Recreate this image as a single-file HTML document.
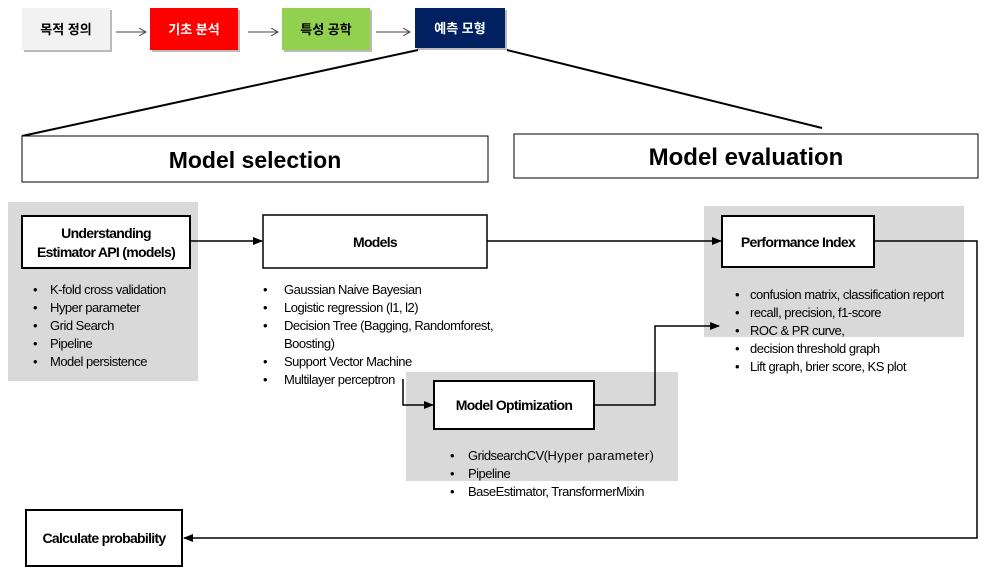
<!DOCTYPE html>
<html><head><meta charset="utf-8"><style>
body{margin:0;background:#fff;}
svg text{font-family:"Liberation Sans","Noto Sans CJK KR",sans-serif;}
.b{font-size:13px;letter-spacing:-0.5px;fill:#000;}
.h{font-size:14px;font-weight:bold;letter-spacing:-0.7px;}
</style></head><body>
<svg width="992" height="574" xmlns="http://www.w3.org/2000/svg">
<defs><marker id="a" markerWidth="10" markerHeight="8" refX="9" refY="4" orient="auto" markerUnits="userSpaceOnUse"><path d="M0,0 L10,4 L0,8z" fill="#000"/></marker>
<marker id="t" markerWidth="8" markerHeight="8" refX="7" refY="4" orient="auto" markerUnits="userSpaceOnUse"><path d="M0,0 L7,4 L0,8" fill="none" stroke="#444"/></marker></defs>
<rect x="24" y="10" width="88" height="42" fill="#bbb"/>
<rect x="22" y="8" width="88" height="42" fill="#f2f2f2"/>
<text x="66" y="34" text-anchor="middle" font-size="13" font-weight="bold">목적 정의</text>
<rect x="152" y="10" width="88" height="42" fill="#bbb"/>
<rect x="150" y="8" width="88" height="42" fill="#ff0000"/>
<text x="194" y="34" text-anchor="middle" font-size="13" font-weight="bold" fill="#fff">기초 분석</text>
<rect x="284" y="10" width="88" height="42" fill="#bbb"/>
<rect x="282" y="8" width="88" height="42" fill="#92d050"/>
<text x="326" y="34" text-anchor="middle" font-size="13" font-weight="bold">특성 공학</text>
<rect x="417" y="10" width="90" height="40" fill="#bbb"/>
<rect x="415" y="8" width="90" height="40" fill="#002060"/>
<text x="460" y="33" text-anchor="middle" font-size="13" font-weight="bold" fill="#fff">예측 모형</text>
<line x1="116" y1="32" x2="146" y2="32" stroke="#444" marker-end="url(#t)"/>
<line x1="248" y1="32" x2="278" y2="32" stroke="#444" marker-end="url(#t)"/>
<line x1="376" y1="32" x2="410" y2="32" stroke="#444" marker-end="url(#t)"/>
<line x1="418" y1="50" x2="22" y2="136" stroke="#000" stroke-width="2"/>
<line x1="507" y1="50" x2="822" y2="128" stroke="#000" stroke-width="2"/>
<rect x="22" y="136" width="466" height="46" fill="#fff" stroke="#000"/>
<text x="255" y="168" text-anchor="middle" font-size="23" font-weight="bold">Model selection</text>
<rect x="514" y="134" width="464" height="44" fill="#fff" stroke="#000"/>
<text x="746" y="165" text-anchor="middle" font-size="24" font-weight="bold">Model evaluation</text>
<rect x="8" y="202" width="190" height="179" fill="#d9d9d9"/>
<rect x="704" y="206" width="260" height="131" fill="#d9d9d9"/>
<rect x="406" y="372" width="272" height="109" fill="#d9d9d9"/>
<rect x="22" y="216" width="168" height="52" fill="#fff" stroke="#000" stroke-width="2"/>
<text x="106" y="238" text-anchor="middle" class="h">Understanding</text>
<text x="106" y="257" text-anchor="middle" class="h">Estimator API (models)</text>
<rect x="263" y="215" width="224" height="53" fill="#fff" stroke="#000" stroke-width="1.5"/>
<text x="375" y="247" text-anchor="middle" class="h">Models</text>
<rect x="722" y="216" width="152" height="51" fill="#fff" stroke="#000" stroke-width="2"/>
<text x="798" y="247" text-anchor="middle" class="h">Performance Index</text>
<rect x="434" y="381" width="160" height="48" fill="#fff" stroke="#000" stroke-width="2"/>
<text x="514" y="410" text-anchor="middle" class="h">Model Optimization</text>
<rect x="26" y="510" width="156" height="56" fill="#fff" stroke="#000" stroke-width="2"/>
<text x="104" y="543" text-anchor="middle" class="h">Calculate probability</text>
<line x1="190" y1="241" x2="262" y2="241" stroke="#000" stroke-width="1.5" marker-end="url(#a)"/>
<line x1="487" y1="241" x2="721" y2="241" stroke="#000" stroke-width="1.5" marker-end="url(#a)"/>
<polyline points="403,379 403,405 433,405" fill="none" stroke="#000" stroke-width="1.5" marker-end="url(#a)"/>
<polyline points="594,405 655,405 655,326 719,326" fill="none" stroke="#000" stroke-width="1.5" marker-end="url(#a)"/>
<polyline points="874,241 977,241 977,538 184,538" fill="none" stroke="#000" stroke-width="1.5" marker-end="url(#a)"/>
<g class="b">
<text x="33" y="294">•</text><text x="50" y="294">K-fold cross validation</text>
<text x="33" y="312">•</text><text x="50" y="312">Hyper parameter</text>
<text x="33" y="330">•</text><text x="50" y="330">Grid Search</text>
<text x="33" y="348">•</text><text x="50" y="348">Pipeline</text>
<text x="33" y="366">•</text><text x="50" y="366">Model persistence</text>
<text x="263" y="294">•</text><text x="284" y="294">Gaussian Naive Bayesian</text>
<text x="263" y="312">•</text><text x="284" y="312">Logistic regression (l1, l2)</text>
<text x="263" y="330">•</text><text x="284" y="330">Decision Tree (Bagging, Randomforest,</text>
<text x="284" y="348">Boosting)</text>
<text x="263" y="366">•</text><text x="284" y="366">Support Vector Machine</text>
<text x="263" y="384">•</text><text x="284" y="384">Multilayer perceptron</text>
<text x="735" y="299">•</text><text x="750" y="299">confusion matrix, classification report</text>
<text x="735" y="317">•</text><text x="750" y="317">recall, precision, f1-score</text>
<text x="735" y="335">•</text><text x="750" y="335">ROC &amp; PR curve,</text>
<text x="735" y="353">•</text><text x="750" y="353">decision threshold graph</text>
<text x="735" y="371">•</text><text x="750" y="371">Lift graph, brier score, KS plot</text>
<text x="450" y="460">•</text><text x="468" y="460">GridsearchCV(<tspan letter-spacing="0.3">Hyper parameter)</tspan></text>
<text x="450" y="478">•</text><text x="468" y="478">Pipeline</text>
<text x="450" y="496">•</text><text x="468" y="496">BaseEstimator, TransformerMixin</text>
</g>
</svg>
</body></html>
